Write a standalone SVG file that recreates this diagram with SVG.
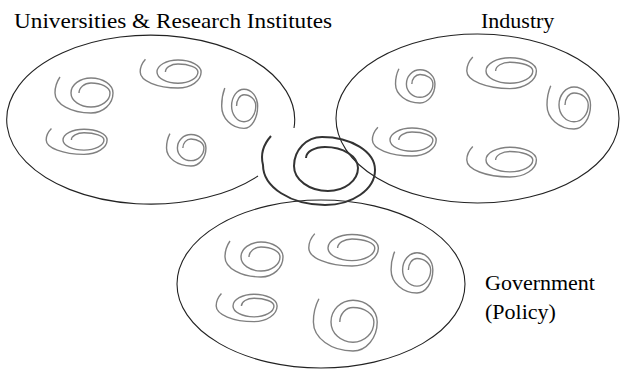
<svg xmlns="http://www.w3.org/2000/svg" xmlns:xlink="http://www.w3.org/1999/xlink" width="620" height="370" viewBox="0 0 620 370">
<style>
.ell{fill:none;stroke:#222;stroke-width:1.1}
.sp{fill:none;stroke:#808080;stroke-width:1.4}
.core{fill:none;stroke:#333;stroke-width:2}
.lbl{font-family:"Liberation Serif","Times New Roman",serif;font-size:22px;fill:#000}
</style>
<defs>
<path id="swirl" d="M -12,0 A 12 10 0 0 1 0,-10 A 19 10 0 0 1 19,0 A 19 14 0 0 1 0,14 A 20 14 0 0 1 -20,0 A 20 15 0 0 1 0,-15 A 22 15 0 0 1 22,0 A 22 20 0 0 1 0,20 A 36 20 0 0 1 -36,0 A 36 31 0 0 1 -31,-16" vector-effect="non-scaling-stroke"/>
</defs>
<rect width="620" height="370" fill="#fff"/>
<g id="universities">
<path class="ell" d="M 294,128 A 144 84.5 0 1 0 258,176"/>
<text class="lbl" x="14" y="28" textLength="318" lengthAdjust="spacingAndGlyphs">Universities &amp; Research Institutes</text>
<g class="sp">
<use xlink:href="#swirl" transform="translate(91,93)"/>
<use xlink:href="#swirl" transform="translate(178,72) scale(1.05,0.8)"/>
<use xlink:href="#swirl" transform="translate(244,106) scale(0.62,1.12)"/>
<use xlink:href="#swirl" transform="translate(84,140) scale(1.05,0.72)"/>
<use xlink:href="#swirl" transform="translate(191,148) scale(0.68,0.9)"/>
</g>
</g>
<g id="industry">
<ellipse class="ell" cx="477.5" cy="118.5" rx="141.5" ry="84.5"/>
<text class="lbl" x="481" y="28">Industry</text>
<g class="sp">
<use xlink:href="#swirl" transform="translate(420,84) scale(0.68,0.95)"/>
<use xlink:href="#swirl" transform="translate(510,71) scale(1.2,0.88)"/>
<use xlink:href="#swirl" transform="translate(574,105) scale(0.75,1.2)"/>
<use xlink:href="#swirl" transform="translate(412,140) scale(1.1,0.8)"/>
<use xlink:href="#swirl" transform="translate(510,160) scale(1.2,0.85)"/>
</g>
</g>
<g id="government">
<ellipse class="ell" cx="321" cy="284" rx="144" ry="84"/>
<text class="lbl" x="485" y="290">Government</text>
<text class="lbl" x="485" y="319">(Policy)</text>
<g class="sp">
<use xlink:href="#swirl" transform="translate(261,257)"/>
<use xlink:href="#swirl" transform="translate(352,248) scale(1.2,0.9)"/>
<use xlink:href="#swirl" transform="translate(417,270) scale(0.72,1.15)"/>
<use xlink:href="#swirl" transform="translate(254,306) scale(1.05,0.78)"/>
<use xlink:href="#swirl" transform="translate(353,322) scale(1.1,1.45)"/>
</g>
</g>
<g id="core">
<path class="core" d="M 306,158 A 19 11 0 0 1 325,147 A 33 21 0 0 1 358,168 A 30 23 0 0 1 328,191 A 34 25 0 0 1 294,166 A 28 29 0 0 1 322,137 A 53 33 0 0 1 375,170 A 50 35 0 0 1 325,205 A 62 40 0 0 1 263,165 A 62 42 0 0 1 271,136"/>
</g>
</svg>
